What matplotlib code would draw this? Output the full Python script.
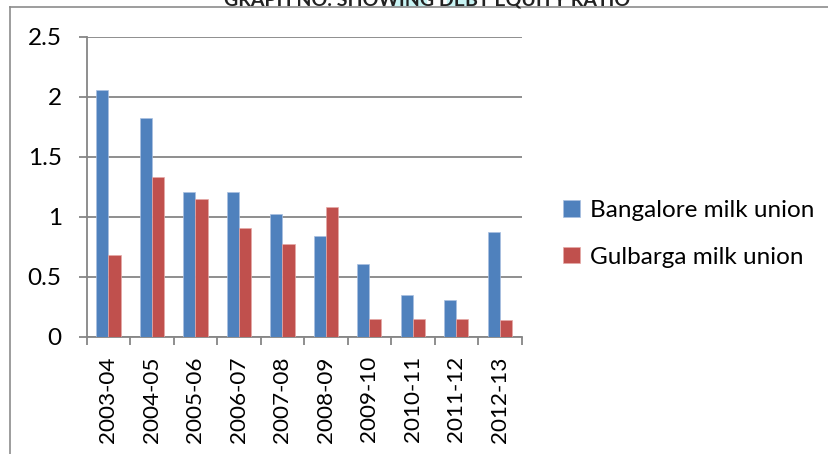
import numpy as np
import matplotlib
matplotlib.use("Agg")
import matplotlib.pyplot as plt
from matplotlib.lines import Line2D
from matplotlib.patches import Rectangle

years = ["2003-04", "2004-05", "2005-06", "2006-07", "2007-08",
         "2008-09", "2009-10", "2010-11", "2011-12", "2012-13"]
bangalore = [2.06, 1.82, 1.21, 1.21, 1.02, 0.84, 0.61, 0.35, 0.31, 0.87]
gulbarga = [0.68, 1.33, 1.15, 0.91, 0.77, 1.08, 0.15, 0.15, 0.15, 0.14]
series_names = ["Bangalore milk union", "Gulbarga milk union"]
yticks = [0, 0.5, 1, 1.5, 2, 2.5]
ytick_labels = ["0", "0.5", "1", "1.5", "2", "2.5"]
title = "GRAPH NO. SHOWING DEBT EQUITY RATIO"

BLUE = "#4F81BD"
RED = "#C0504D"
GRID = "#868686"
FS = 17.5

plt.rcParams["font.family"] = ["Lato", "DejaVu Sans"]

W, H = 829, 454
fig = plt.figure(figsize=(W / 100, H / 100), dpi=100)

def fx(px):
    return px / W

def fy(py):
    return 1 - py / H

ax = fig.add_axes([fx(86.7), fy(336.7), fx(521.5) - fx(86.7), fy(36.7) - fy(336.7)])

x = np.arange(len(years))
bw = 0.28
ax.bar(x - bw / 2, bangalore, bw, color=BLUE, edgecolor="#a9c0e0", linewidth=0.5,
       label=series_names[0], zorder=3)
ax.bar(x + bw / 2, gulbarga, bw, color=RED, edgecolor="#e6a9a7", linewidth=0.5,
       label=series_names[1], zorder=3)

ax.set_xlim(-0.5, len(years) - 0.5)
ax.set_ylim(0, 2.5)
ax.set_yticks(yticks)
ax.set_yticklabels(ytick_labels)
ax.yaxis.grid(True, color=GRID, linewidth=1.3, zorder=0)
ax.set_axisbelow(True)

ax.set_xticks(x)
ax.set_xticklabels(years, rotation=90, fontsize=16.2)
ax.set_xticks(np.arange(-0.5, len(years)), minor=True)
ax.tick_params(axis="x", which="major", length=0, pad=14)
ax.tick_params(axis="x", which="minor", length=6, width=1.3, color=GRID, direction="out")
ax.tick_params(axis="y", length=6, width=1.3, color=GRID, labelsize=FS, pad=12)

for side in ("top", "right"):
    ax.spines[side].set_visible(False)
for side in ("left", "bottom"):
    ax.spines[side].set_color(GRID)
    ax.spines[side].set_linewidth(1.3)

leg = fig.legend(loc="upper left", bbox_to_anchor=(fx(563), fy(200)),
                 frameon=False, fontsize=FS, handlelength=0.68, handleheight=0.68,
                 handletextpad=0.42, labelspacing=1.05, borderaxespad=0, borderpad=0)

# outer chart frame (left and top edges)
fig.add_artist(Line2D([fx(10), fx(10)], [fy(7), 0], color="#8c8c8c", linewidth=1.2))
fig.add_artist(Line2D([fx(10), 1], [fy(7), fy(7)], color="#8c8c8c", linewidth=1.2))

# highlighted title strip at the top edge
fig.add_artist(Rectangle((fx(391), fy(6)), fx(35), fy(0) - fy(6), color="#c8f4f4", zorder=0))
fig.add_artist(Rectangle((fx(447), fy(6)), fx(27), fy(0) - fy(6), color="#c8f4f4", zorder=0))
fig.text(fx(427), fy(5), title, ha="center", va="baseline", fontsize=14,
         fontweight="bold", color="#222222")

fig.savefig("out.png", dpi=100)
